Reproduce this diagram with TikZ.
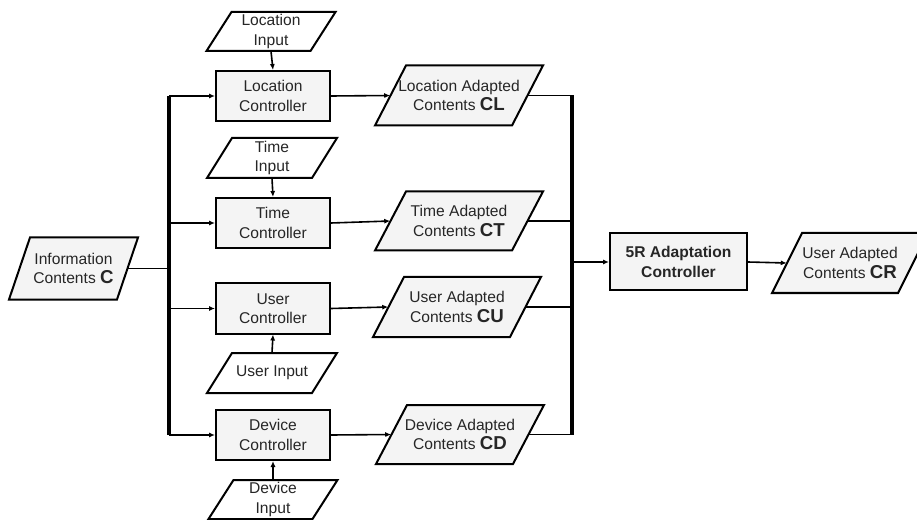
\documentclass[tikz,border=0pt]{standalone}
\usepackage{fontspec}
\setmainfont{Liberation Sans}
\usetikzlibrary{arrows.meta}
\definecolor{boxfill}{HTML}{F4F4F4}
\definecolor{txtcol}{HTML}{262626}
\tikzset{
  txt/.style={align=center, text=txtcol, inner sep=0pt,
    font=\fontsize{11.7pt}{14.6pt}\selectfont},
  ctrl/.style={txt, draw=black, fill=boxfill, line width=1.5pt},
  conn/.style={line width=1.2pt, -{Latex[length=4.5pt,width=3.8pt]}},
  plain/.style={line width=1.2pt},
  bus/.style={line width=2.6pt},
}
\newcommand\bigb[1]{{\fontsize{14pt}{14.6pt}\selectfont\bfseries #1}}
% name, cx, cy, w, h, slant, fill, text
\newcommand\para[8]{%
  \filldraw[fill=#7, draw=black, line width=1.5pt, line join=miter]
    ({#2-#4/2-#6/2},{#3+#5/2}) -- ({#2-#4/2+#6/2},{#3-#5/2}) --
    ({#2+#4/2+#6/2},{#3-#5/2}) -- ({#2+#4/2-#6/2},{#3+#5/2}) -- cycle;
  \node[txt, minimum width={#4*0.75pt}, minimum height={#5*0.75pt}] (#1) at (#2,#3) {#8};%
}
\begin{document}
\begin{tikzpicture}[x=0.75pt,y=-0.75pt]
\clip (0,0) rectangle (917,520);
\useasboundingbox (0,0) rectangle (917,520);
% inputs
\para{li}{271}{31.5}{104}{39}{25}{white}{Location\\Input}
\para{ti}{272}{158}{105}{40}{25}{white}{Time\\Input}
\para{ui}{272}{373}{105}{40}{25}{white}{User Input}
\para{di}{273}{499.5}{104}{39}{25}{white}{Device\\Input}
% information
\para{info}{73.5}{268.5}{108}{62}{21}{boxfill}{Information\\Contents \bigb{C}}
% controllers
\node[ctrl, minimum width={114*0.75pt}, minimum height={50*0.75pt}] (lc) at (273,96) {Location\\Controller};
\node[ctrl, minimum width={114*0.75pt}, minimum height={50*0.75pt}] (tc) at (273,223) {Time\\Controller};
\node[ctrl, minimum width={114*0.75pt}, minimum height={50*0.75pt}] (uc) at (273,308.5) {User\\Controller};
\node[ctrl, minimum width={114*0.75pt}, minimum height={50*0.75pt}] (dc) at (273,435) {Device\\Controller};
% adapted contents
\para{cl}{459}{95.5}{137}{60}{31}{boxfill}{Location Adapted\\Contents \bigb{CL}}
\para{ct}{459}{221}{137}{59}{31}{boxfill}{Time Adapted\\Contents \bigb{CT}}
\para{cu}{457}{307}{137}{60}{31}{boxfill}{User Adapted\\Contents \bigb{CU}}
\para{cd}{460}{434.5}{137}{59}{31}{boxfill}{Device Adapted\\Contents \bigb{CD}}
% 5R controller and result
\node[ctrl, minimum width={137*0.75pt}, minimum height={57*0.75pt}, font=\fontsize{11.7pt}{14.6pt}\selectfont\bfseries] (fr) at (678.5,262) {5R Adaptation\\Controller};
\para{cr}{850}{263}{126}{60}{30}{boxfill}{User Adapted\\Contents \bigb{CR}}
% left bus
\coordinate (lbt) at (169,96);
\coordinate (lbb) at (169,435);
\coordinate (lbm) at (169,268.5);
\draw[bus] (lbt) -- (lbb);
\draw[plain] (info.east) -- (lbm);
\draw[conn] (lbt) -- (lc.west);
\draw[conn] (169,223) -- (tc.west);
\draw[conn] (169,308.5) -- (uc.west);
\draw[conn] (lbb) -- (dc.west);
% inputs to controllers
\draw[conn] (li.south) -- (lc.north);
\draw[conn] (ti.south) -- (tc.north);
\draw[conn] (ui.north) -- (uc.south);
\draw[conn] (di.north) -- (dc.south);
% controllers to adapted
\draw[conn] (lc.east) -- (cl.west);
\draw[conn] (tc.east) -- (ct.west);
\draw[conn] (uc.east) -- (cu.west);
\draw[conn] (dc.east) -- (cd.west);
% right bus
\coordinate (rbt) at (572,95.5);
\coordinate (rbb) at (572,434.5);
\coordinate (rbm) at (572,262);
\draw[bus] (rbt) -- (rbb);
\draw[plain] (cl.east) -- (rbt);
\draw[plain] (ct.east) -- (572,221);
\draw[plain] (cu.east) -- (572,307);
\draw[plain] (cd.east) -- (rbb);
\draw[conn] (rbm) -- (fr.west);
\draw[conn] (fr.east) -- (cr.west);
\end{tikzpicture}
\end{document}
